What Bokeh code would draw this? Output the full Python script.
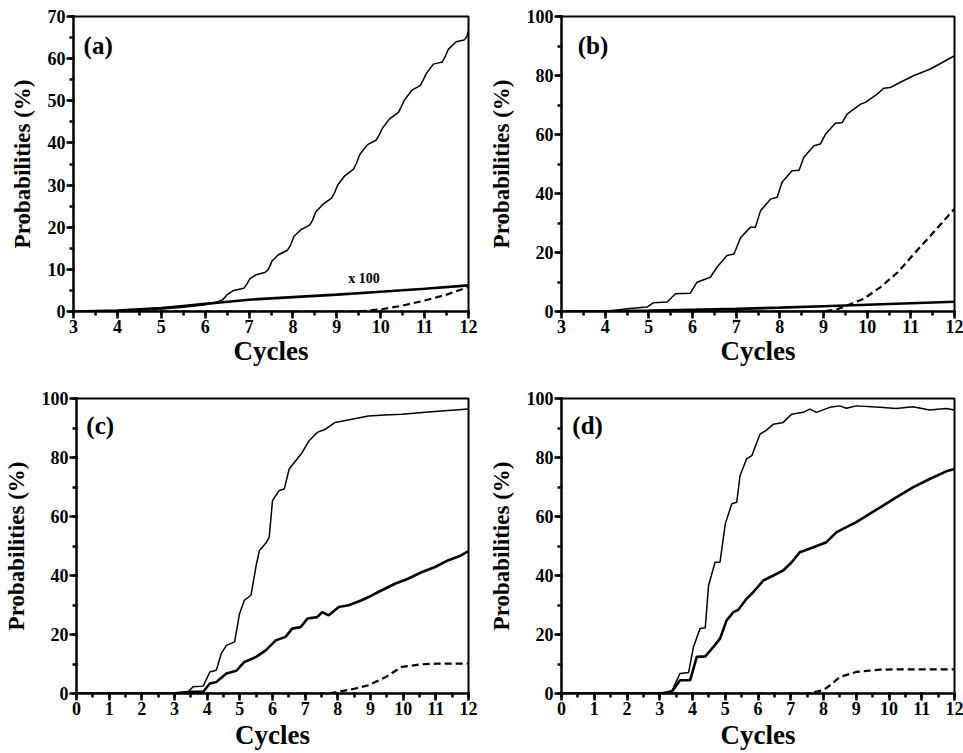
from bokeh.plotting import figure
from bokeh.layouts import column, row
from bokeh.models import Range1d, SingleIntervalTicker, Label
from bokeh.embed import file_html
from bokeh.resources import INLINE

# ---------------- data ----------------
a_thin_x = [3, 4, 5, 5.5, 6.0, 6.3, 6.4, 6.5, 6.65, 6.88, 6.95, 7.02, 7.18, 7.37, 7.44,
            7.52, 7.66, 7.88, 7.94, 8.02, 8.18, 8.38, 8.44, 8.52, 8.68, 8.88, 8.94, 9.02,
            9.18, 9.38, 9.44, 9.52, 9.7, 9.9, 9.96, 10.04, 10.2, 10.4, 10.46, 10.54, 10.72,
            10.9, 10.96, 11.04, 11.2, 11.4, 11.46, 11.54, 11.72, 11.9, 11.96, 12]
a_thin_y = [0, 0.2, 0.6, 1.0, 1.6, 2.4, 2.8, 4.0, 5.0, 5.5, 6.5, 7.8, 8.8, 9.3, 10.0,
            11.9, 13.4, 14.6, 15.6, 17.8, 19.4, 20.5, 21.5, 23.6, 25.4, 26.9, 28.0, 30.0,
            32.2, 33.8, 35.0, 37.2, 39.6, 40.7, 41.8, 43.5, 45.7, 47.2, 48.4, 50.2, 52.6,
            53.6, 54.8, 56.5, 58.7, 59.2, 60.3, 62.2, 64.0, 64.4, 65.2, 66.6]
a_thick_x = [3, 4, 5, 5.5, 6, 6.4, 7, 8, 9, 10, 11, 12]
a_thick_y = [0, 0.2, 0.8, 1.3, 1.8, 2.2, 2.8, 3.4, 4.0, 4.7, 5.4, 6.2]
a_dash_x = [3, 9.3, 9.6, 10.0, 10.5, 11.0, 11.5, 12.0]
a_dash_y = [0, 0, 0.1, 0.5, 1.4, 2.6, 4.0, 5.8]

b_thin_x = [3, 4.0, 4.5, 4.96, 5.11, 5.42, 5.61, 5.95, 6.1, 6.41, 6.56, 6.79, 6.95, 7.1,
            7.33, 7.44, 7.56, 7.79, 7.94, 8.05, 8.28, 8.44, 8.55, 8.78, 8.93, 9.05, 9.27,
            9.43, 9.54, 9.85, 9.96, 10.23, 10.38, 10.53, 10.76, 11.06, 11.45, 12]
b_thin_y = [0, 0, 0.9, 1.5, 3.0, 3.2, 6.0, 6.2, 9.9, 11.6, 15.0, 19.0, 19.5, 25.0,
            28.6, 28.6, 34.2, 38.1, 38.7, 43.8, 47.7, 47.9, 52.3, 56.2, 56.8, 60.2, 63.8,
            64.1, 66.9, 70.3, 70.9, 73.7, 75.7, 75.9, 77.7, 79.9, 82.2, 86.7]
b_thick_x = [3, 4, 5, 6, 7, 8, 9, 10, 11, 12]
b_thick_y = [0, 0.05, 0.3, 0.6, 0.9, 1.3, 1.8, 2.3, 2.8, 3.3]
b_dash_x = [3, 9.0, 9.3, 9.54, 9.92, 10.3, 10.7, 11.07, 11.45, 12]
b_dash_y = [0, 0, 0.7, 2.0, 4.3, 8.2, 13.3, 19.5, 25.7, 34.8]

c_thin_x = [0, 2.97, 3.42, 3.57, 3.88, 4.08, 4.28, 4.43, 4.59, 4.84, 4.99, 5.14, 5.34,
            5.5, 5.6, 5.8, 5.9, 6.0, 6.2, 6.36, 6.51, 6.71, 6.91, 7.12, 7.37, 7.62, 7.92,
            8.43, 8.94, 9.44, 9.95, 10.96, 12]
c_thin_y = [0, 0, 0.6, 2.3, 2.5, 7.3, 7.9, 13.5, 16.3, 17.5, 27.0, 31.6, 33.3,
            43.4, 48.5, 51.0, 53.0, 65.4, 68.8, 69.3, 76.1, 78.9, 81.7, 85.7, 88.5, 89.6, 91.9,
            93.0, 94.1, 94.4, 94.7, 95.6, 96.4]
c_thick_x = [0, 2.97, 3.47, 3.88, 4.08, 4.28, 4.59, 4.89, 5.14, 5.5, 5.8, 6.1, 6.4, 6.6,
             6.86, 7.07, 7.37, 7.52, 7.72, 8.03, 8.33, 8.73, 8.94, 9.24, 9.75, 10.15, 10.56,
             10.96, 11.37, 11.77, 12]
c_thick_y = [0, 0, 0.6, 0.6, 3.4, 3.9, 6.8, 7.7, 10.7, 12.4, 14.7, 18.0, 19.2, 22.0,
             22.5, 25.4, 25.9, 27.6, 26.5, 29.3, 29.9, 31.6, 32.7, 34.4, 37.2, 38.9, 41.1,
             42.8, 45.1, 46.8, 48.3]
c_dash_x = [0, 7.7, 8.03, 8.5, 8.94, 9.5, 9.95, 10.56, 11.0, 12]
c_dash_y = [0, 0, 0.6, 1.6, 2.8, 5.8, 9.0, 9.9, 10.1, 10.1]

d_thin_x = [0, 3.02, 3.37, 3.62, 3.88, 4.03, 4.23, 4.39, 4.49, 4.69, 4.84, 5.0, 5.2,
            5.35, 5.45, 5.65, 5.81, 6.06, 6.26, 6.47, 6.77, 7.03, 7.38, 7.58, 7.79, 8.19,
            8.5, 8.7, 9.0, 9.72, 10.22, 10.73, 11.24, 11.75, 12]
d_thin_y = [0, 0, 0.9, 6.8, 7.1, 15.8, 22.0, 22.3, 36.6, 44.5, 44.5, 57.5, 64.3,
            64.8, 73.8, 79.5, 80.6, 87.9, 89.3, 91.3, 91.9, 94.7, 95.3, 96.4, 95.3, 97.0,
            97.5, 96.7, 97.5, 97.0, 96.6, 97.2, 96.1, 96.6, 96.1]
d_thick_x = [0, 3.02, 3.37, 3.62, 3.93, 4.13, 4.39, 4.64, 4.84, 5.04, 5.25, 5.4, 5.65,
             5.86, 6.16, 6.47, 6.77, 7.03, 7.28, 7.69, 8.09, 8.4, 8.7, 9.0, 9.41, 9.82,
             10.22, 10.73, 11.24, 11.75, 12]
d_thick_y = [0, 0, 0.6, 4.5, 4.5, 12.4, 12.6, 15.8, 18.6, 24.8, 27.6, 28.4, 32.1,
             34.4, 38.3, 40.0, 41.7, 44.5, 47.9, 49.6, 51.3, 54.7, 56.4, 58.1, 60.9, 63.7,
             66.5, 69.9, 72.7, 75.3, 76.1]
d_dash_x = [0, 7.5, 7.99, 8.2, 8.5, 9.0, 9.72, 10.5, 12]
d_dash_y = [0, 0, 1.1, 2.8, 5.6, 7.3, 8.1, 8.2, 8.2]

x_label = "Cycles"
y_label = "Probabilities (%)"

FONT = "Liberation Serif"


def make_panel(xr, yr, ystep, thin, thick, dash, tag, tag_pos,
               width, height, mb_left, mb_right, mb_top, mb_bottom, xlab_standoff):
    p = figure(width=width, height=height,
               x_range=Range1d(*xr), y_range=Range1d(*yr),
               output_backend="svg", toolbar_location=None,
               min_border_left=mb_left, min_border_right=mb_right,
               min_border_top=mb_top, min_border_bottom=mb_bottom)
    p.grid.visible = False
    p.outline_line_color = "black"
    p.outline_line_width = 2
    p.outline_line_alpha = 1
    p.background_fill_color = "white"
    p.border_fill_color = "white"

    p.xaxis.ticker = SingleIntervalTicker(interval=1, num_minor_ticks=2)
    p.yaxis.ticker = SingleIntervalTicker(interval=ystep, num_minor_ticks=2)
    for ax in (p.xaxis[0], p.yaxis[0]):
        ax.axis_line_width = 2
        ax.axis_line_color = "black"
        ax.major_tick_line_color = "black"
        ax.minor_tick_line_color = "black"
        ax.major_tick_line_width = 2.5
        ax.minor_tick_line_width = 2.5
        ax.major_tick_in = 1
        ax.major_tick_out = 7
        ax.minor_tick_in = 1
        ax.minor_tick_out = 4
        ax.major_label_text_font = FONT
        ax.major_label_text_font_style = "bold"
        ax.major_label_text_color = "black"
        ax.major_label_standoff = 1
        ax.axis_label_text_font = FONT
        ax.axis_label_text_font_style = "bold"
        ax.axis_label_text_color = "black"
    p.xaxis.major_label_text_font_size = "18px"
    p.yaxis.major_label_text_font_size = "18px"
    p.xaxis.axis_label_text_font_size = "27px"
    p.yaxis.axis_label_text_font_size = "23px"
    p.xaxis.axis_label = x_label
    p.yaxis.axis_label = y_label
    p.xaxis.axis_label_standoff = xlab_standoff
    p.yaxis.axis_label_standoff = 10

    p.line(dash[0], dash[1], line_color="black", line_width=2.2, line_dash="7 4")
    p.line(thick[0], thick[1], line_color="black", line_width=2.6)
    p.line(thin[0], thin[1], line_color="black", line_width=1.5)

    p.add_layout(Label(x=tag_pos[0], y=tag_pos[1], text=tag, text_font=FONT,
                       text_font_style="bold", text_font_size="25px",
                       text_baseline="middle", text_align="left", text_color="black"))
    return p


pa = make_panel((3, 12), (0, 70), 10, (a_thin_x, a_thin_y), (a_thick_x, a_thick_y),
                (a_dash_x, a_dash_y), "(a)", (3.23, 63.1), 481, 381, 73, 13, 16, 70, 0)
pa.add_layout(Label(x=9.26, y=7.8, text="x 100", text_font=FONT, text_font_style="bold",
                    text_font_size="14px", text_baseline="middle", text_align="left",
                    text_color="black"))
pb = make_panel((3, 12), (0, 100), 20, (b_thin_x, b_thin_y), (b_thick_x, b_thick_y),
                (b_dash_x, b_dash_y), "(b)", (3.37, 90.2), 482, 381, 80, 9, 16, 70, 0)
pc = make_panel((0, 12), (0, 100), 20, (c_thin_x, c_thin_y), (c_thick_x, c_thick_y),
                (c_dash_x, c_dash_y), "(c)", (0.3, 90.8), 481, 372, 73, 13, 17, 60, 2)
pd = make_panel((0, 12), (0, 100), 20, (d_thin_x, d_thin_y), (d_thick_x, d_thick_y),
                (d_dash_x, d_dash_y), "(d)", (0.33, 90.8), 482, 372, 80, 9, 17, 60, 2)

layout = column(row(pa, pb), row(pc, pd))
open("out.html", "w").write(file_html(layout, INLINE))
